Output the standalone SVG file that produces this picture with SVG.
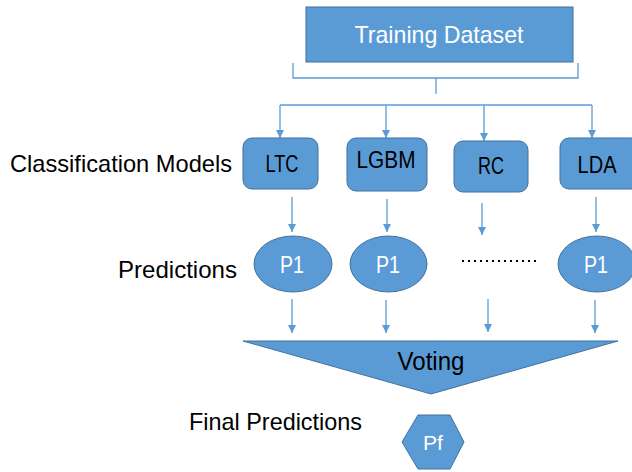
<svg xmlns="http://www.w3.org/2000/svg" width="632" height="472" viewBox="0 0 632 472">
<style>
.shape{fill:#5B9BD5;stroke:#41719C;stroke-width:1}
.wt{font-family:"Liberation Sans",Arial,sans-serif;fill:#ffffff;text-anchor:middle}
.bt{font-family:"Liberation Sans",Arial,sans-serif;fill:#000000;text-anchor:middle}
.lbl{font-family:"Liberation Sans",Arial,sans-serif;fill:#000000;font-size:24px}
.ln{fill:none;stroke:#5B9BD5;stroke-width:1.3}
.ar{fill:none;stroke:#5B9BD5;stroke-width:1.3;marker-end:url(#ah)}
</style>
<defs>
<marker id="ah" viewBox="0 0 10 10" refX="10" refY="5" markerWidth="8" markerHeight="8" markerUnits="userSpaceOnUse" orient="auto">
<path d="M0,0 L10,5 L0,10 z" fill="#5B9BD5"/>
</marker>
</defs>
<rect width="632" height="472" fill="#ffffff"/>
<g id="labels">
<text class="lbl" x="10" y="172" textLength="222" lengthAdjust="spacingAndGlyphs">Classification Models</text>
<text class="lbl" x="118" y="278" textLength="119" lengthAdjust="spacingAndGlyphs">Predictions</text>
<text class="lbl" x="189" y="430" textLength="173" lengthAdjust="spacingAndGlyphs">Final Predictions</text>
</g>
<g id="connectors">
<path class="ln" d="M293,63 V78 H578 V63"/>
<path class="ln" d="M436,78 V94"/>
<path class="ln" d="M280,105 H592"/>
<path class="ar" d="M280,105 V138"/>
<path class="ar" d="M386,105 V138"/>
<path class="ar" d="M484,105 V141"/>
<path class="ar" d="M592,105 V138"/>
<path class="ar" d="M292,197 V232"/>
<path class="ar" d="M387,199 V232"/>
<path class="ar" d="M482,203 V235"/>
<path class="ar" d="M596,197 V232"/>
<path class="ar" d="M292,299 V333"/>
<path class="ar" d="M386,300 V333"/>
<path class="ar" d="M488,299 V332"/>
<path class="ar" d="M595,300 V333"/>
</g>
<g id="training">
<rect class="shape" x="306" y="7" width="267" height="55"/>
<text class="wt" x="439" y="43" font-size="24" textLength="169" lengthAdjust="spacingAndGlyphs">Training Dataset</text>
</g>
<g id="ltc">
<rect class="shape" x="243" y="138" width="75" height="51" rx="9"/>
<text class="bt" x="282" y="172" font-size="24" textLength="33" lengthAdjust="spacingAndGlyphs">LTC</text>
</g>
<g id="lgbm">
<rect class="shape" x="347" y="138" width="80" height="53" rx="9"/>
<text class="bt" x="386" y="168" font-size="24" textLength="59" lengthAdjust="spacingAndGlyphs">LGBM</text>
</g>
<g id="rc">
<rect class="shape" x="454" y="141" width="74" height="51" rx="9"/>
<text class="bt" x="491" y="174" font-size="24" textLength="26" lengthAdjust="spacingAndGlyphs">RC</text>
</g>
<g id="lda">
<rect class="shape" x="560" y="138" width="80" height="51" rx="9"/>
<text class="bt" x="597" y="173" font-size="24" textLength="39" lengthAdjust="spacingAndGlyphs">LDA</text>
</g>
<g id="p1a">
<ellipse class="shape" cx="293" cy="264" rx="39" ry="28"/>
<text class="wt" x="292" y="273" font-size="24" textLength="24" lengthAdjust="spacingAndGlyphs">P1</text>
</g>
<g id="p1b">
<ellipse class="shape" cx="388.5" cy="264" rx="38.5" ry="28"/>
<text class="wt" x="388" y="273" font-size="24" textLength="24" lengthAdjust="spacingAndGlyphs">P1</text>
</g>
<g id="dots">
<line x1="462" y1="261" x2="538" y2="261" stroke="#000000" stroke-width="2" stroke-dasharray="2,4"/>
</g>
<g id="p1c">
<ellipse class="shape" cx="597" cy="264" rx="39" ry="28"/>
<text class="wt" x="596" y="273" font-size="24" textLength="24" lengthAdjust="spacingAndGlyphs">P1</text>
</g>
<g id="voting">
<polygon class="shape" points="243,341 618,341 431,394"/>
<text class="bt" x="431" y="370" font-size="25" textLength="67" lengthAdjust="spacingAndGlyphs">Voting</text>
</g>
<g id="pf">
<polygon class="shape" points="418,415 450,415 464,442 450,469 418,469 402,442"/>
<text class="wt" x="433" y="450" font-size="21" textLength="20" lengthAdjust="spacingAndGlyphs">Pf</text>
</g>
</svg>
